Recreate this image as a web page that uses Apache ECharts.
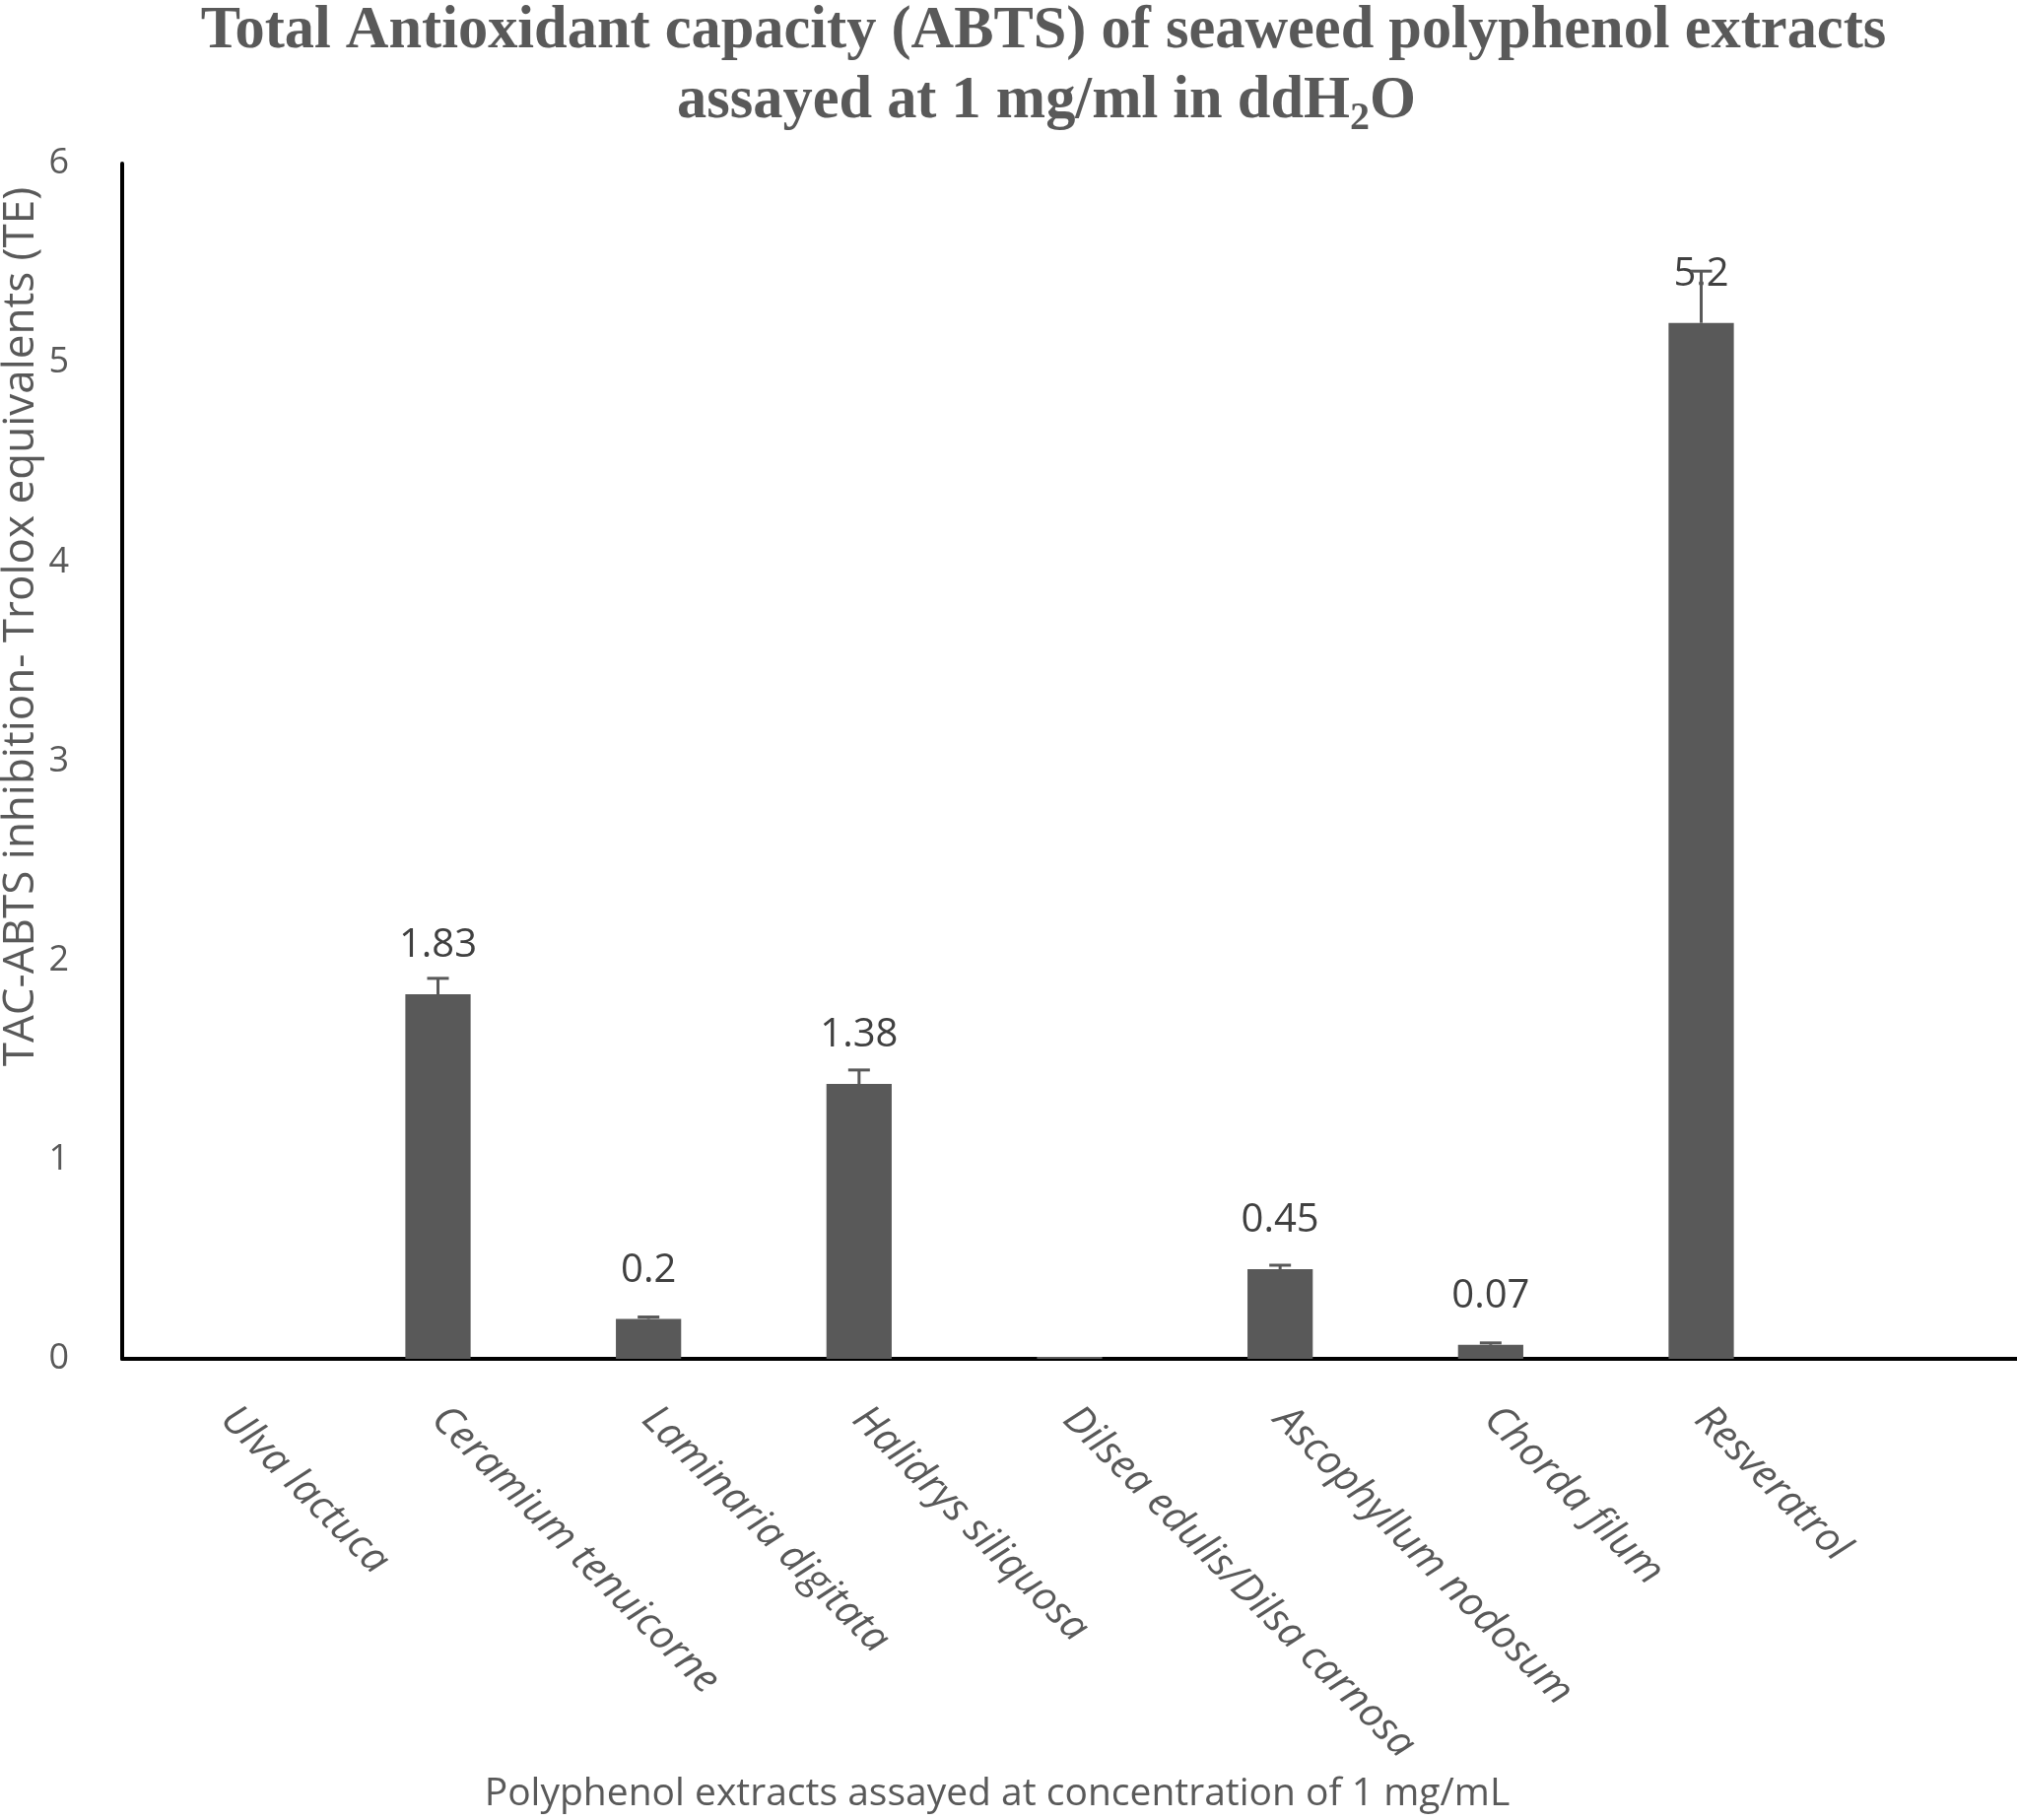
<!DOCTYPE html>
<html>
<head>
<meta charset="utf-8">
<script src="https://cdn.jsdelivr.net/npm/echarts@6/dist/echarts.min.js"></script>
<style>html,body{margin:0;padding:0;background:#fff;}#c{width:2047px;height:1847px;}</style>
</head>
<body>
<div id="c"></div>
<script>
var categories = ['Ulva lactuca', 'Ceramium tenuicorne', 'Laminaria digitata', 'Halidrys siliquosa', 'Dilsea edulis/Dilsa carnosa', 'Ascophyllum nodosum', 'Chorda filum', 'Resveratrol'];
var values = [0, 1.83, 0.2, 1.38, 0.01, 0.45, 0.07, 5.2];
var errors = [0, 0.08, 0.01, 0.07, 0, 0.02, 0.01, 0.26];
var yTicks = [0, 1, 2, 3, 4, 5, 6];

var cats = categories.concat(['']);
var errData = values.map(function (v, i) { return [i, v, v + errors[i], errors[i]]; });

var chart = echarts.init(document.getElementById('c'));
var sans = 'Open Sans';
chart.setOption({
  backgroundColor: '#ffffff',
  animation: false,
  title: [
    {
      text: 'Total Antioxidant capacity (ABTS) of seaweed polyphenol extracts',
      left: 1054, top: -6, textAlign: 'center',
      textStyle: { fontFamily: 'Liberation Serif', fontWeight: 'bold', fontSize: 60.4, color: '#595959', lineHeight: 66 }
    },
    {
      text: '{t|assayed at 1 mg/ml in ddH}{s|2}{t|O}',
      left: 1057, top: 62, textAlign: 'center',
      textStyle: {
        rich: {
          t: { fontFamily: 'Liberation Serif', fontWeight: 'bold', fontSize: 60.4, color: '#595959', lineHeight: 66, verticalAlign: 'bottom' },
          s: { fontFamily: 'Liberation Serif', fontWeight: 'bold', fontSize: 40, color: '#595959', lineHeight: 24, height: 24, verticalAlign: 'bottom' }
        }
      }
    }
  ],
  grid: { left: 124, right: 0, top: 166, bottom: 468, containLabel: false },
  xAxis: {
    type: 'category',
    data: cats,
    axisLine: { lineStyle: { color: '#000000', width: 4 } },
    axisTick: { show: false },
    axisLabel: {
      interval: 0, rotate: -45, margin: 55,
      fontFamily: sans, fontStyle: 'italic', fontSize: 41, color: '#595959'
    }
  },
  yAxis: {
    type: 'value',
    min: 0, max: 6, interval: 1,
    axisLine: { show: true, lineStyle: { color: '#000000', width: 4 } },
    axisTick: { show: false },
    splitLine: { show: false },
    axisLabel: {
      margin: 54, fontFamily: sans, fontSize: 36, color: '#595959',
      formatter: function (v) { return yTicks.indexOf(v) >= 0 ? String(v) : ''; }
    }
  },
  graphic: [
    {
      type: 'text', x: 21, y: 636, rotation: Math.PI / 2,
      style: { text: 'TAC-ABTS inhibition- Trolox equivalents (TE)', textAlign: 'center', textVerticalAlign: 'middle', fontFamily: sans, fontSize: 44, fill: '#595959' }
    },
    {
      type: 'text', x: 1012, y: 1821,
      style: { text: 'Polyphenol extracts assayed at concentration of 1 mg/mL', textAlign: 'center', textVerticalAlign: 'middle', fontFamily: sans, fontSize: 39, fill: '#595959' }
    }
  ],
  series: [
    {
      type: 'bar',
      data: values,
      barWidth: '31%',
      itemStyle: { color: '#595959' },
      label: {
        show: true, position: 'top', distance: 28,
        fontFamily: sans, fontSize: 40, color: '#404040', lineHeight: 42,
        formatter: function (p) { return p.value >= 0.05 ? String(p.value) : ''; }
      },
      z: 2
    },
    {
      type: 'custom',
      data: errData,
      z: 5,
      renderItem: function (params, api) {
        if (api.value(3) <= 0) return null;
        var p0 = api.coord([api.value(0), api.value(1)]);
        var p1 = api.coord([api.value(0), api.value(2)]);
        var st = { stroke: '#595959', lineWidth: 3 };
        return {
          type: 'group',
          children: [
            { type: 'line', shape: { x1: p0[0], y1: p0[1], x2: p1[0], y2: p1[1] }, style: st },
            { type: 'line', shape: { x1: p1[0] - 11, y1: p1[1], x2: p1[0] + 11, y2: p1[1] }, style: st }
          ]
        };
      }
    }
  ]
});
</script>
</body>
</html>
